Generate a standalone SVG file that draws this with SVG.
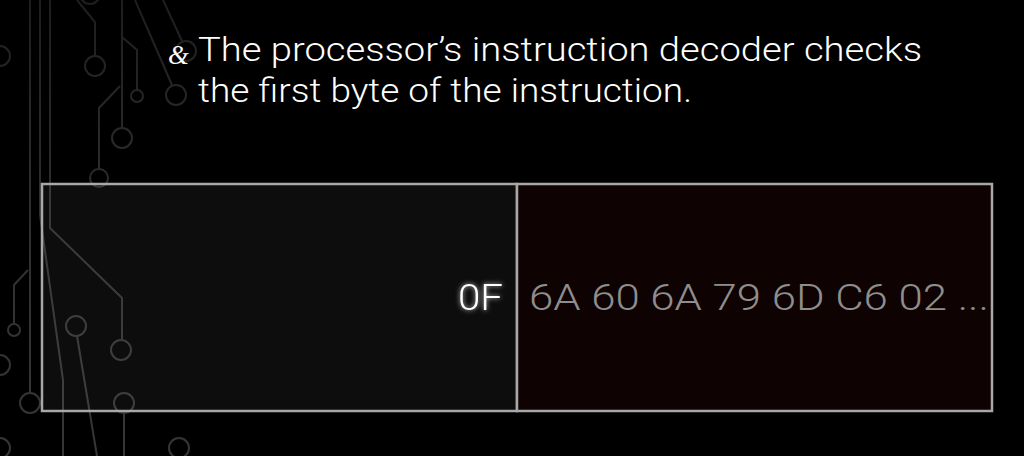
<svg xmlns="http://www.w3.org/2000/svg" width="1024" height="456" viewBox="0 0 1024 456">
  <defs>
    <linearGradient id="traceGrad" gradientUnits="userSpaceOnUse" x1="0" y1="0" x2="0" y2="456">
      <stop offset="0" stop-color="#1e1e1e"/>
      <stop offset="0.5" stop-color="#303030"/>
      <stop offset="1" stop-color="#363636"/>
    </linearGradient>
    <filter id="glow" x="-50%" y="-50%" width="200%" height="200%">
      <feGaussianBlur in="SourceAlpha" stdDeviation="2.5" result="b"/>
      <feFlood flood-color="#ffffff" flood-opacity="0.8"/>
      <feComposite in2="b" operator="in" result="g"/>
      <feMerge><feMergeNode in="g"/><feMergeNode in="SourceGraphic"/></feMerge>
    </filter>
    <style>
      .trace { fill: none; stroke: url(#traceGrad); stroke-width: 2; }
      .title { font-family: Roboto, "Liberation Sans", sans-serif; font-weight: 300; font-size: 33px; fill: #ffffff; }
      .byte { font-family: Roboto, "Liberation Sans", sans-serif; font-weight: 300; font-size: 37px; }
      .panel { stroke: #a8a8a8; stroke-width: 2.5; }
    </style>
  </defs>

  <rect x="0" y="0" width="1024" height="456" fill="#000000"/>

  <!-- circuit background -->
  <g id="circuit">
    <path class="trace" d="M30 0 V393"/>
    <circle class="trace" cx="30" cy="403" r="10"/>
    <path class="trace" d="M40 0 V215 L63 380 V456"/>
    <path class="trace" d="M50 0 V228 L122 298 V340"/>
    <circle class="trace" cx="121" cy="350" r="10"/>
    <path class="trace" d="M77 0 L95 22 V56"/>
    <circle class="trace" cx="95" cy="66" r="10"/>
    <path class="trace" d="M122 0 V128"/>
    <circle class="trace" cx="122" cy="138" r="10"/>
    <path class="trace" d="M122 37 L137 50 V90"/>
    <circle class="trace" cx="137" cy="96" r="6"/>
    <path class="trace" d="M120 86 L99 108 V169"/>
    <circle class="trace" cx="99" cy="178" r="9"/>
    <path class="trace" d="M135 0 L172 85"/>
    <circle class="trace" cx="176" cy="95" r="10"/>
    <path class="trace" d="M163 0 L182 41"/>
    <circle class="trace" cx="186" cy="51" r="10"/>
    <circle class="trace" cx="0" cy="56" r="10"/>
    <circle class="trace" cx="90" cy="-6" r="10"/>
    <path class="trace" d="M28 270 L14 285 V324"/>
    <circle class="trace" cx="14" cy="330" r="6"/>
    <circle class="trace" cx="76" cy="326" r="10"/>
    <path class="trace" d="M77 336 L97 456"/>
    <circle class="trace" cx="124" cy="403" r="10"/>
    <path class="trace" d="M124 413 V456"/>
    <circle class="trace" cx="0" cy="365" r="10"/>
    <circle class="trace" cx="0" cy="448" r="10"/>
    <circle class="trace" cx="179" cy="448" r="10"/>
  </g>

  <!-- heading -->
  <g id="heading">
    <text x="168" y="64" font-family="'Liberation Serif', serif" font-style="italic" font-size="27" fill="#ffffff">&amp;</text>
    <text class="title" x="198" y="61" textLength="724" lengthAdjust="spacingAndGlyphs">The processor’s instruction decoder checks</text>
    <text class="title" x="198" y="102" textLength="494" lengthAdjust="spacingAndGlyphs">the first byte of the instruction.</text>
  </g>

  <!-- decoded part -->
  <g id="decoded">
    <rect class="panel" x="42" y="184" width="475" height="227" fill="#ffffff" fill-opacity="0.05"/>
    <text class="byte" x="503" y="310" text-anchor="end" fill="#ffffff" font-weight="400" filter="url(#glow)" textLength="45" lengthAdjust="spacingAndGlyphs">0F</text>
  </g>

  <!-- remaining bytes -->
  <g id="remaining">
    <rect class="panel" x="517" y="184" width="475" height="227" fill="#0e0202"/>
    <text class="byte" x="529" y="310" fill="#8e8e8e" textLength="460" lengthAdjust="spacingAndGlyphs">6A 60 6A 79 6D C6 02 ...</text>
  </g>
</svg>
